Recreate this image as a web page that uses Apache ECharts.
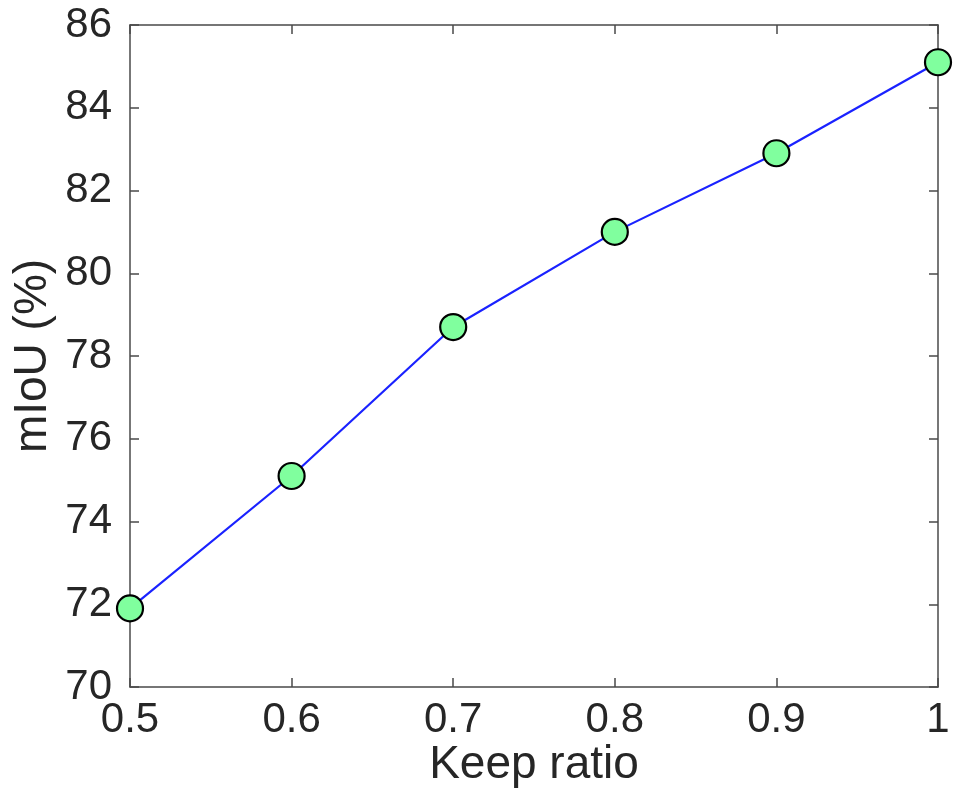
<!DOCTYPE html>
<html>
<head>
<meta charset="utf-8">
<script src="https://cdn.jsdelivr.net/npm/echarts@6/dist/echarts.min.js"></script>
<style>
html,body{margin:0;padding:0;background:#fff;}
#main{width:953px;height:795px;}
</style>
</head>
<body>
<div id="main"></div>
<script>
const keepRatio = [0.5, 0.6, 0.7, 0.8, 0.9, 1.0];
const mIoU = [71.9, 75.1, 78.7, 81.0, 82.9, 85.1];
const xTicks = [0.5, 0.6, 0.7, 0.8, 0.9, 1];
const yTicks = [70, 72, 74, 76, 78, 80, 82, 84, 86];

const font = '"Liberation Sans", Arial, Helvetica, sans-serif';
const axisColor = '#4a4a4a';
const textColor = '#262626';

const chart = echarts.init(document.getElementById('main'), null, {renderer: 'canvas'});
const baseAxisLine = {show: true, lineStyle: {color: axisColor, width: 1.5}};
const baseTick = {show: true, inside: true, length: 9, lineStyle: {color: axisColor, width: 1.5}};

chart.setOption({
  animation: false,
  backgroundColor: '#fff',
  grid: {left: 130, right: 15, top: 25, bottom: 108, containLabel: false},
  xAxis: [{
    type: 'value', min: xTicks[0], max: xTicks[xTicks.length - 1], interval: 0.1,
    name: 'Keep ratio', nameLocation: 'middle', nameGap: 55, nameMoveOverlap: false,
    nameTextStyle: {fontFamily: font, fontSize: 46, color: textColor},
    axisLine: baseAxisLine, axisTick: baseTick, splitLine: {show: false},
    axisLabel: {fontFamily: font, fontSize: 42, color: textColor, margin: 12,
      formatter: v => String(+v.toFixed(1))}
  }, {
    type: 'value', position: 'top', min: xTicks[0], max: xTicks[xTicks.length - 1], interval: 0.1,
    axisLine: baseAxisLine, axisTick: baseTick, axisLabel: {show: false}, splitLine: {show: false}
  }],
  yAxis: [{
    type: 'value', min: yTicks[0], max: yTicks[yTicks.length - 1], interval: 2,
    name: 'mIoU (%)', nameLocation: 'middle', nameGap: 74, nameMoveOverlap: false,
    nameTextStyle: {fontFamily: font, fontSize: 46, color: textColor},
    axisLine: baseAxisLine, axisTick: baseTick, splitLine: {show: false},
    axisLabel: {fontFamily: font, fontSize: 42, color: textColor, margin: 18}
  }, {
    type: 'value', position: 'right', min: yTicks[0], max: yTicks[yTicks.length - 1], interval: 2,
    axisLine: baseAxisLine, axisTick: baseTick, axisLabel: {show: false}, splitLine: {show: false}
  }],
  series: [{
    type: 'line',
    data: keepRatio.map((x, i) => [x, mIoU[i]]),
    clip: false,
    symbol: 'circle', symbolSize: 26,
    lineStyle: {color: '#1a22ff', width: 2.2},
    itemStyle: {color: '#80ff9e', borderColor: '#000', borderWidth: 2.2},
    z: 5
  }]
});
</script>
</body>
</html>
